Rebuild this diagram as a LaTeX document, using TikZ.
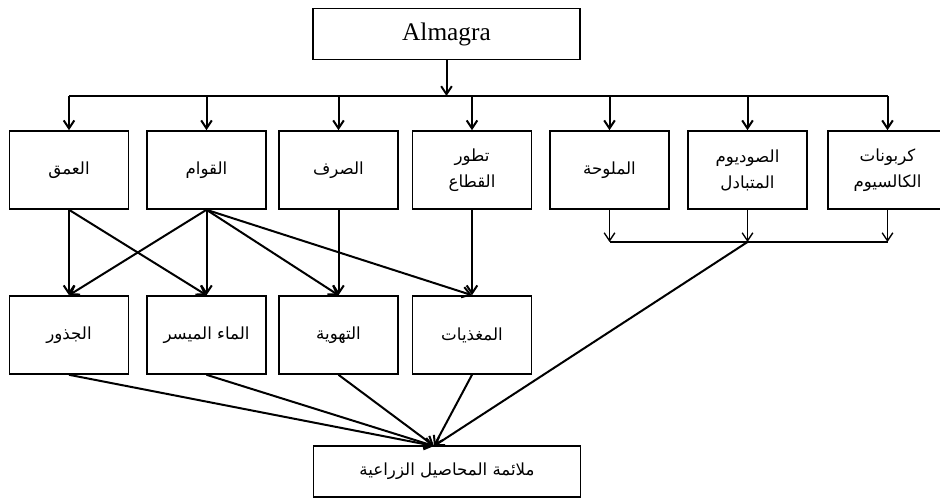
\documentclass[tikz,border=0pt]{standalone}
\usepackage{fontspec}
\setmainfont{Liberation Serif}
\newfontfamily\arabicfont[Script=Arabic]{DejaVu Sans}
\TeXXeTstate=1
\usetikzlibrary{arrows.meta}
\newcommand{\rl}[1]{\beginR #1\endR}

\begin{document}
\begin{tikzpicture}[x=0.75pt, y=-0.75pt,
  box/.style={draw, line width=1.2pt, minimum width=89.25pt, minimum height=58.5pt, inner sep=2pt, align=center, font=\arabicfont\fontsize{12.5}{19.5}\selectfont},
  wide/.style={box, minimum width=200.5pt, minimum height=38pt},
  arr/.style={-{Straight Barb[length=6pt,width=8pt]}, line width=1.5pt},
  thin/.style={line width=1pt}]
  \useasboundingbox (0,0) rectangle (940,498);
  \node[wide, font=\fontsize{19}{22}\selectfont] (alm) at (446.5,34) {Almagra};
  \node[box] (depth) at (69,170) {\rl{العمق}};
  \node[box] (texture) at (206.5,170) {\rl{القوام}};
  \node[box] (drainage) at (338.5,170) {\rl{الصرف}};
  \node[box] (profile) at (472,170) {\rl{تطور}\\\rl{القطاع}};
  \node[box] (salinity) at (609.5,170) {\rl{الملوحة}};
  \node[box] (sodium) at (747.5,170) {\rl{الصوديوم}\\\rl{المتبادل}};
  \node[box] (carbonate) at (887.5,170) {\rl{كربونات}\\\rl{الكالسيوم}};
  \node[box] (roots) at (69,335) {\rl{الجذور}};
  \node[box] (water) at (206.5,335) {\rl{الماء الميسر}};
  \node[box] (aeration) at (338.5,335) {\rl{التهوية}};
  \node[box] (nutrients) at (472,335) {\rl{المغذيات}};
  \node[wide] (suit) at (447,471.5) {\rl{ملائمة المحاصيل الزراعية}};
  \coordinate (bus) at (448,96);
  \coordinate (mrg) at (742,242);
  \coordinate (hub) at (434,446);
  \draw[arr] (alm.south) -- (alm.south |- bus);
  \draw[line width=1.5pt] (depth.north |- bus) -- (carbonate.north |- bus);
  \foreach \n in {depth,texture,drainage,profile,salinity,sodium,carbonate}
    \draw[arr] (\n.north |- bus) -- (\n.north);
  \foreach \n in {salinity,sodium,carbonate}
    \draw[arr, thin] (\n.south) -- (\n.south |- mrg);
  \draw[thin] (salinity.south |- mrg) -- (carbonate.south |- mrg);
  \draw[arr] (sodium.south |- mrg) -- (hub);
  \draw[arr] (depth.south) -- (roots.north); \draw[arr] (depth.south) -- (water.north);
  \foreach \n in {roots,water,aeration,nutrients}
    \draw[arr] (texture.south) -- (\n.north);
  \draw[arr] (drainage.south) -- (aeration.north);
  \draw[arr] (profile.south) -- (nutrients.north);
  \foreach \n in {roots,water,aeration,nutrients}
    \draw[arr] (\n.south) -- (hub);
\end{tikzpicture}
\end{document}
